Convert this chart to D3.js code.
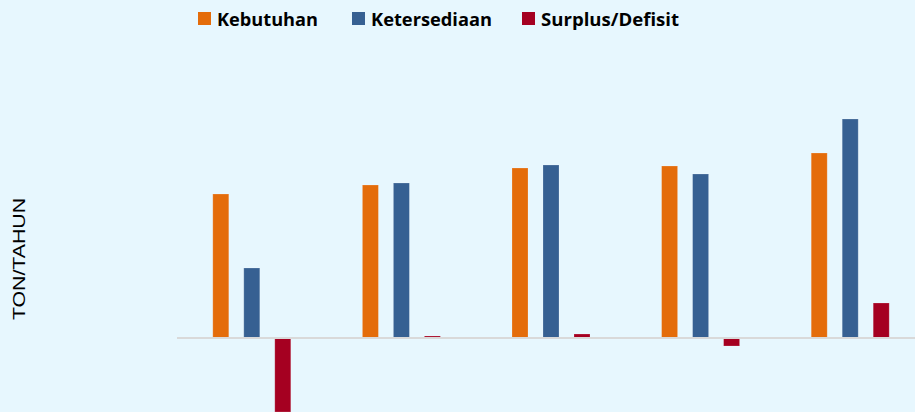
<!DOCTYPE html>
<html>
<head>
<meta charset="utf-8">
<script src="https://cdn.jsdelivr.net/npm/d3@7"></script>
<style>
  html, body { margin: 0; padding: 0; background: #e7f7fe; overflow: hidden; }
</style>
</head>
<body>
<div class="chart"></div>
<script>
// values (arbitrary units, baseline = 0)
var categories   = ["1", "2", "3", "4", "5"];
var seriesNames  = ["Kebutuhan", "Ketersediaan", "Surplus/Defisit"];
var kebutuhan    = [144, 153, 170, 172, 185];
var ketersediaan = [70, 155, 173, 164, 219];
var surplus      = [-74, 2, 4, -8, 35];

var colors = ["#e46c0a", "#366092", "#a50021"];

var width = 915, height = 412;

var svg = d3.select(".chart")
  .append("svg")
    .attr("width", width)
    .attr("height", height);

svg.append("rect")
  .attr("width", width)
  .attr("height", height)
  .attr("fill", "#e7f7fe");

var x0 = d3.scaleBand()
  .domain(categories)
  .range([177, 925])
  .padding(0);

var groupWidth = 93;
var x1 = d3.scaleBand()
  .domain(seriesNames)
  .range([0, groupWidth])
  .padding(0);

var barWidth = 16;

var y = d3.scaleLinear()
  .domain([0, 100])
  .range([338, 238]);

var rows = categories.map(function(c, i) {
  return {cat: c, values: [kebutuhan[i], ketersediaan[i], surplus[i]]};
});

var groups = svg.selectAll(".group")
  .data(rows)
  .enter().append("g")
    .attr("class", "group")
    .attr("transform", function(d) {
      return "translate(" + (x0(d.cat) + (x0.bandwidth() - groupWidth) / 2) + ",0)";
    });

groups.selectAll("rect")
  .data(function(d) {
    return d.values.map(function(v, j) { return {name: seriesNames[j], value: v, idx: j}; });
  })
  .enter().append("rect")
    .attr("x", function(d) { return x1(d.name) + (x1.bandwidth() - barWidth) / 2; })
    .attr("y", function(d) { return Math.min(y(d.value), y(0)); })
    .attr("width", barWidth)
    .attr("height", function(d) { return Math.abs(y(d.value) - y(0)); })
    .style("fill", function(d) { return colors[d.idx]; })
    .style("stroke", "#ffffff")
    .style("stroke-opacity", 0.25)
    .style("stroke-width", 0.8);

// zero line
svg.append("line")
  .attr("x1", 177)
  .attr("x2", width)
  .attr("y1", y(0))
  .attr("y2", y(0))
  .style("stroke", "#d9d9d9")
  .style("stroke-width", 2);

// y axis title
svg.append("text")
  .attr("transform", "translate(25,259) rotate(-90)")
  .attr("text-anchor", "middle")
  .attr("textLength", 122)
  .attr("lengthAdjust", "spacingAndGlyphs")
  .style("font-family", "Liberation Sans, Arial, sans-serif")
  .style("font-size", "16.5px")
  .style("fill", "#000")
  .text("TON/TAHUN");

// legend
var legendX = [198, 352, 522],
    legendW = [101, 121, 138];

for (var i = 0; i < seriesNames.length; i++) {
  svg.append("rect")
    .attr("x", legendX[i])
    .attr("y", 12)
    .attr("width", 13)
    .attr("height", 13)
    .style("fill", colors[i]);

  svg.append("text")
    .attr("x", legendX[i] + 19)
    .attr("y", 26)
    .attr("textLength", legendW[i])
    .attr("lengthAdjust", "spacingAndGlyphs")
    .style("font-family", "Open Sans, sans-serif")
    .style("font-weight", "bold")
    .style("font-size", "18px")
    .style("fill", "#000")
    .text(seriesNames[i]);
}
</script>
</body>
</html>
